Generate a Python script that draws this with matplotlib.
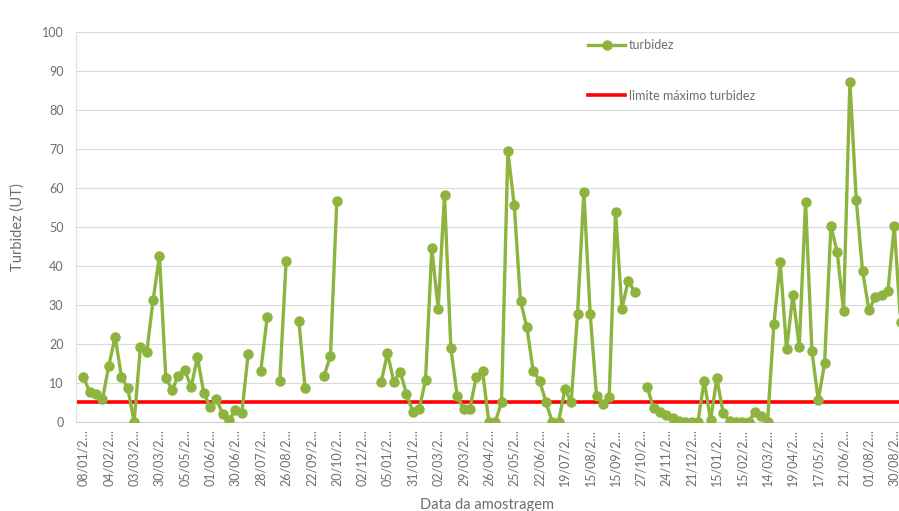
import matplotlib
# headless
matplotlib.use('Agg')
from matplotlib import pyplot as plt
import numpy as np

nan = float('nan')

# every 4th sample date is labelled on the axis (labels are cut off in the source)
tick_labels = ['08/01/2…', '04/02/2…', '03/03/2…', '30/03/2…', '05/05/2…', '01/06/2…',
               '30/06/2…', '28/07/2…', '26/08/2…', '22/09/2…', '20/10/2…', '02/12/2…',
               '05/01/2…', '31/01/2…', '02/03/2…', '29/03/2…', '26/04/2…', '25/05/2…',
               '22/06/2…', '19/07/2…', '15/08/2…', '15/09/2…', '27/10/2…', '24/11/2…',
               '21/12/2…', '15/01/2…', '15/02/2…', '14/03/2…', '19/04/2…', '17/05/2…',
               '21/06/2…', '01/08/2…', '30/08/2…']
label_every = 4

turbidez = [
    11.5, 7.6, 7.2, 5.8, 14.4, 21.9, 11.6, 8.6, 0, 19.3,
    18, 31.3, 42.6, 11.4, 8.2, 11.9, 13.3, 8.9, 16.6, 7.4,
    3.9, 5.9, 2.0, 0.5, 3.1, 2.2, 17.4, nan, 13.2, 26.8,
    nan, 10.6, 41.4, nan, 26, 8.6, nan, nan, 11.9, 17,
    56.7, nan, nan, nan, nan, nan, nan, 10.3, 17.6, 10.3,
    12.9, 7.2, 2.6, 3.3, 10.7, 44.5, 29, 58.3, 18.9, 6.7,
    3.3, 3.3, 11.5, 13.1, 0, 0, 5, 69.4, 55.7, 31,
    24.3, 13.1, 10.6, 5.2, 0, 0, 8.4, 5.2, 27.7, 59,
    27.7, 6.7, 4.5, 6.3, 53.9, 29, 36.2, 33.4, nan, 9,
    3.5, 2.6, 1.8, 1.0, 0.3, 0, 0, 0, 10.6, 0.5,
    11.2, 2.2, 0.3, 0, 0, 0, 2.6, 1.5, 0.1, 25.1,
    41.1, 18.6, 32.6, 19.3, 56.5, 18.2, 5.6, 15, 50.3, 43.5,
    28.5, 87.3, 57, 38.7, 28.7, 32, 32.6, 33.5, 50.3, 25.7,
]
limite_maximo = 5

GREEN = '#8CB43E'
GREY_TEXT = '#6E6E6E'

plt.rcParams['font.family'] = ['Lato', 'DejaVu Sans']

fig = plt.figure(figsize=(8.99, 5.11), dpi=100)
ax = fig.add_axes([0.0845, 0.1742, 0.9155, 0.7632])

x = np.arange(len(turbidez))
y = np.array(turbidez, dtype=float)

ax.axhline(limite_maximo, color='#FF0000', lw=2.6, zorder=2, label='limite máximo turbidez')
ax.plot(x, y, color=GREEN, lw=2.4, marker='o', ms=6.5, mfc=GREEN, mec=GREEN,
        zorder=3, label='turbidez')

ax.set_ylim(0, 100)
ax.set_xlim(-1.18, 128.75)
ax.set_yticks(np.arange(0, 101, 10))
ax.set_xticks(np.arange(0, len(tick_labels) * label_every, label_every))
ax.set_xticklabels(tick_labels, rotation=90)
ax.tick_params(axis='both', length=0, colors=GREY_TEXT, labelsize=9)
ax.tick_params(axis='y', pad=9)
ax.tick_params(axis='x', pad=5)

ax.grid(axis='y', color='#DADADA', lw=0.8)
ax.set_axisbelow(True)
for side in ['top', 'right']:
    ax.spines[side].set_visible(False)
ax.spines['left'].set_color('#E0E0E0')
ax.spines['bottom'].set_color('#D0D0D0')

ax.set_ylabel('Turbidez (UT)', color=GREY_TEXT, fontsize=10.5, labelpad=12)
ax.set_xlabel('Data da amostragem', color=GREY_TEXT, fontsize=10.5, labelpad=9)

handles, labels = ax.get_legend_handles_labels()
leg = ax.legend(handles[::-1], labels[::-1], loc='upper left', bbox_to_anchor=(0.622, 0.982),
                frameon=False, borderpad=0, borderaxespad=0, handlelength=3.0,
                handletextpad=0.25, labelspacing=3.1, fontsize=9, labelcolor=GREY_TEXT)

fig.savefig('out.png', dpi=100)
